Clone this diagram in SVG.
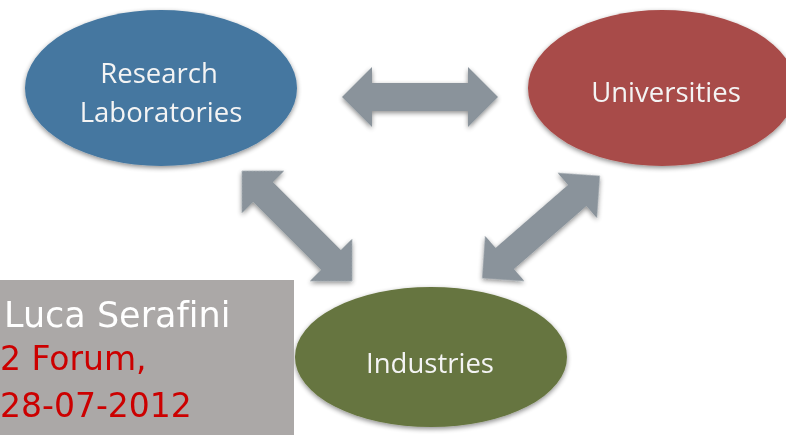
<svg xmlns="http://www.w3.org/2000/svg" width="786" height="435" viewBox="0 0 786 435">
  <style>
    .node-label { font-family: "Open Sans", "Noto Sans", sans-serif; font-size: 27.5px; fill: #f4f4f4; text-anchor: middle; }
    .arrow { fill: #8a939b; }
    .note { font-family: "DejaVu Sans", sans-serif; font-size: 35px; font-variant-ligatures: none; }
    .note-red { font-family: "DejaVu Sans", sans-serif; font-size: 33px; fill: #cc0000; }
  </style>
  <defs>
    <filter id="soft" x="-10%" y="-10%" width="120%" height="125%">
      <feGaussianBlur in="SourceAlpha" stdDeviation="2.5"/>
      <feOffset dx="0" dy="2" result="b"/>
      <feComponentTransfer><feFuncA type="linear" slope="0.45"/></feComponentTransfer>
      <feMerge><feMergeNode/><feMergeNode in="SourceGraphic"/></feMerge>
    </filter>
    <path id="dblArrow" d="M -78 0 L -48 -30 L -48 -14 L 48 -14 L 48 -30 L 78 0 L 48 30 L 48 14 L -48 14 L -48 30 Z"/>
  </defs>
  <rect width="786" height="435" fill="#ffffff"/>

  <g id="connectors" class="arrow" filter="url(#soft)">
    <use href="#dblArrow" transform="translate(420,97)"/>
    <use href="#dblArrow" transform="translate(297,226) rotate(45)"/>
    <use href="#dblArrow" transform="translate(541,227) rotate(-41)"/>
  </g>

  <g id="research-laboratories">
    <ellipse cx="161" cy="88" rx="136" ry="78" fill="#4577a0" filter="url(#soft)"/>
    <text class="node-label" x="159" y="83">Research</text>
    <text class="node-label" x="161" y="122">Laboratories</text>
  </g>

  <g id="universities">
    <ellipse cx="662" cy="88" rx="134" ry="78" fill="#a84b48" filter="url(#soft)"/>
    <text class="node-label" x="666" y="102">Universities</text>
  </g>

  <g id="industries">
    <ellipse cx="431" cy="357" rx="136" ry="70" fill="#66753f" filter="url(#soft)"/>
    <text class="node-label" x="430" y="373">Industries</text>
  </g>

  <g id="author-box">
    <rect x="0" y="280" width="294" height="155" fill="#aba8a7"/>
    <text class="note" x="4" y="327" fill="#ffffff">Luca Serafini</text>
    <text class="note-red" x="0" y="370">2 Forum,</text>
    <text class="note-red" x="0" y="417">28-07-2012</text>
  </g>
</svg>
